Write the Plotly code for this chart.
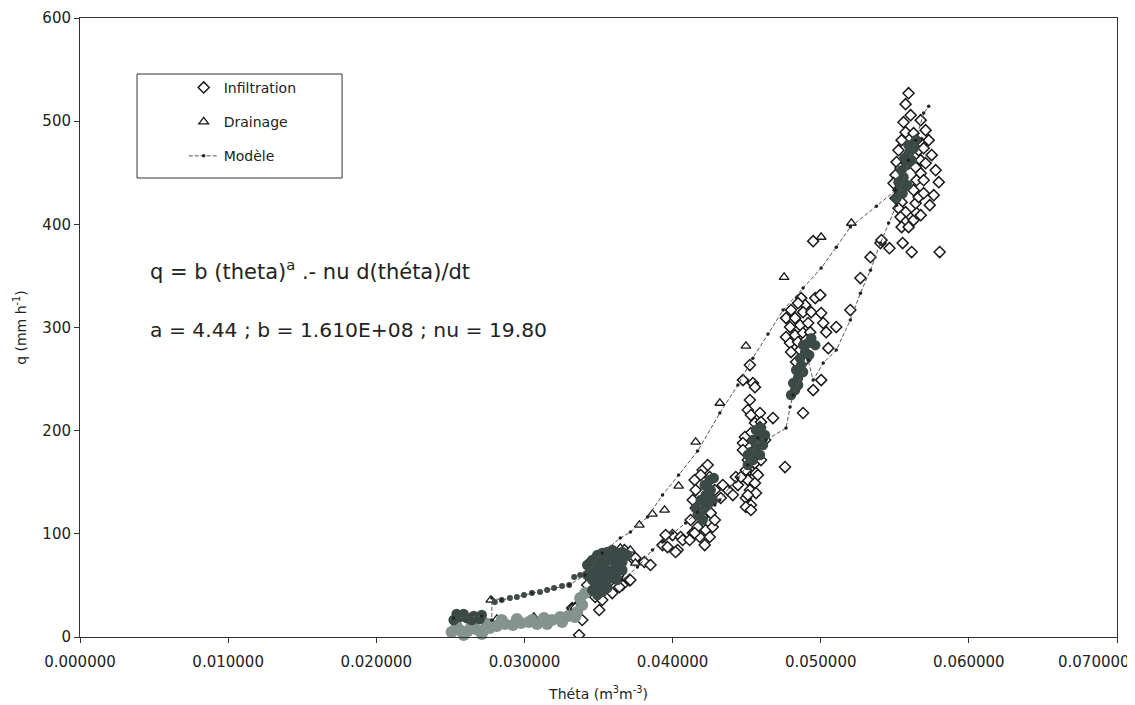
import plotly.graph_objects as go

# ---------------- DATA (theta in m3/m3, q in mm/h) ----------------
# Infiltration (measured, diamonds) grouped by cluster
infil_a_theta = [0.03369, 0.03390, 0.03322, 0.03376, 0.03505, 0.03525, 0.03478, 0.03614, 0.03661, 0.03708,
                 0.03627, 0.03437, 0.03471, 0.03614, 0.03675, 0.03708, 0.03458, 0.03525, 0.03593, 0.03647,
                 0.03715, 0.03641, 0.03593, 0.03675, 0.03742, 0.03810, 0.03851, 0.03749, 0.03546, 0.03424,
                 0.03932, 0.03966, 0.04034, 0.04000, 0.04054, 0.03953, 0.04020, 0.04068, 0.04136]
infil_a_q = [1.9, 16.5, 28.1, 32.9, 26.2, 35.9, 38.8, 48.4, 50.4, 55.2,
             58.1, 71.7, 75.6, 81.4, 84.3, 81.4, 72.7, 66.9, 58.1, 62.0,
             55.2, 48.4, 42.6, 77.5, 74.6, 72.7, 69.8, 76.6, 55.2, 50.4,
             89.1, 87.2, 84.3, 98.8, 96.9, 98.8, 82.4, 94.0, 100.8]

infil_b_theta = [0.04149, 0.04203, 0.04251, 0.04156, 0.04224, 0.04258, 0.04203, 0.04169, 0.04224, 0.04271,
                 0.04183, 0.04217, 0.04251, 0.04156, 0.04285, 0.04122, 0.04149, 0.04115, 0.04237, 0.04190,
                 0.04285, 0.04136, 0.04325, 0.04373, 0.04407, 0.04441, 0.04488, 0.04427, 0.04339]
infil_b_q = [152.1, 161.8, 155.0, 142.4, 132.8, 120.2, 116.3, 106.6, 103.7, 106.6,
             96.9, 89.1, 96.9, 125.0, 113.4, 113.4, 100.8, 94.0, 166.7, 157.0,
             142.4, 132.8, 134.7, 142.4, 137.6, 147.3, 155.0, 155.0, 147.3]

infil_c_theta = [0.04522, 0.04508, 0.04529, 0.04556, 0.04529, 0.04488, 0.04556, 0.04522, 0.04563, 0.04508,
                 0.04556, 0.04522, 0.04563, 0.04495, 0.04529, 0.04495, 0.04542, 0.04475, 0.04590, 0.04597,
                 0.04678, 0.04475, 0.04475, 0.04508, 0.04597, 0.04495, 0.04576, 0.04508, 0.04529, 0.04759,
                 0.04522, 0.04556, 0.04624, 0.04590, 0.04461, 0.04881]
infil_c_q = [229.7, 220.0, 215.1, 207.4, 197.7, 193.8, 168.6, 161.8, 158.9, 152.1,
             149.2, 142.4, 139.5, 134.7, 127.9, 126.0, 246.1, 249.0, 217.1, 208.3,
             212.2, 188.0, 181.2, 171.5, 171.5, 161.8, 157.0, 137.6, 123.1, 164.7,
             263.6, 242.2, 190.9, 203.5, 155.0, 217.1]

infil_d_theta = [0.04868, 0.04895, 0.04847, 0.04800, 0.04766, 0.04827, 0.04881, 0.04936, 0.04861, 0.04915,
                 0.04793, 0.04766, 0.04827, 0.04881, 0.04929, 0.04793, 0.04847, 0.04902, 0.04800, 0.04861,
                 0.04834, 0.04895, 0.04963, 0.04997, 0.05003, 0.05017, 0.05037, 0.05051, 0.05105, 0.05003,
                 0.04949, 0.04949, 0.05200, 0.05268, 0.05336, 0.05403]
infil_d_q = [328.5, 321.7, 323.6, 316.9, 309.1, 309.1, 314.9, 314.9, 302.3, 304.3,
             300.4, 290.7, 292.6, 294.6, 295.5, 284.9, 285.9, 287.8, 276.2, 278.1,
             266.5, 268.4, 328.5, 331.4, 314.0, 304.3, 295.5, 280.0, 300.4, 249.0,
             239.3, 383.7, 316.9, 347.9, 368.2, 381.8]

infil_e_theta = [0.05573, 0.05607, 0.05559, 0.05573, 0.05627, 0.05546, 0.05525, 0.05573, 0.05512, 0.05539,
                 0.05505, 0.05546, 0.05492, 0.05525, 0.05505, 0.05546, 0.05525, 0.05573, 0.05539, 0.05573,
                 0.05546, 0.05593, 0.05627, 0.05647, 0.05641, 0.05661, 0.05627, 0.05647, 0.05675, 0.05641,
                 0.05675, 0.05661, 0.05681, 0.05647, 0.05675, 0.05695, 0.05695, 0.05410, 0.05614, 0.05593,
                 0.05695, 0.05708, 0.05675, 0.05553, 0.05464, 0.05749, 0.05776, 0.05797, 0.05763, 0.05736,
                 0.05729, 0.05708, 0.05803]
infil_e_q = [516.5, 505.8, 499.0, 489.3, 488.4, 481.6, 471.9, 465.1, 460.3, 454.5,
             447.7, 442.8, 439.9, 433.1, 425.4, 421.5, 415.7, 411.8, 407.0, 402.1,
             397.3, 397.3, 404.1, 410.9, 420.5, 426.4, 433.1, 442.8, 449.6, 455.4,
             462.2, 471.9, 478.7, 481.6, 501.0, 430.2, 442.8, 384.7, 373.1, 527.1,
             473.8, 459.3, 408.9, 381.8, 376.9, 467.1, 452.5, 440.9, 428.3, 418.6,
             481.6, 491.3, 373.1]

# Drainage (measured, triangles)
drain_theta = [0.03864, 0.03946, 0.04041, 0.04156, 0.04319, 0.04495, 0.04753, 0.05003, 0.05207, 0.03776,
               0.03715, 0.03647, 0.03322, 0.03064, 0.02814, 0.02773, 0.03749, 0.03342]
drain_q = [119.2, 123.1, 146.3, 189.0, 226.7, 282.0, 348.8, 387.6, 401.2, 108.5,
           84.3, 86.2, 28.1, 19.4, 17.4, 35.9, 71.7, 29.1]

# Model: dense (overlapping) points, dark
model_dense_theta = [
    0.02522, 0.02563, 0.02610, 0.02658, 0.02712, 0.02542, 0.02644, 0.02698, 0.02590,
    0.03424, 0.03458, 0.03492, 0.03525, 0.03559, 0.03593, 0.03627, 0.03661, 0.03695,
    0.03424, 0.03458, 0.03492, 0.03525, 0.03559, 0.03593, 0.03627, 0.03661,
    0.03458, 0.03492, 0.03525, 0.03559, 0.03593, 0.03627, 0.03661,
    0.03458, 0.03492, 0.03525, 0.03559, 0.03593, 0.03627,
    0.03492, 0.03525, 0.03559,
    0.04169, 0.04203, 0.04237, 0.04190, 0.04224, 0.04258, 0.04217, 0.04251, 0.04278, 0.04156, 0.04271, 0.04203,
    0.04508, 0.04542, 0.04529, 0.04563, 0.04542, 0.04583, 0.04563, 0.04597, 0.04610, 0.04508, 0.04590, 0.04624,
    0.04800, 0.04827, 0.04814, 0.04847, 0.04834, 0.04868, 0.04861, 0.04895, 0.04881, 0.04915, 0.04936, 0.04963,
    0.04922, 0.04881, 0.04847,
    0.05512, 0.05539, 0.05525, 0.05559, 0.05546, 0.05580, 0.05566, 0.05600, 0.05593, 0.05627, 0.05614, 0.05586,
    0.05641, 0.05553]
model_dense_q = [
    16.5, 19.4, 18.4, 20.3, 21.3, 22.3, 16.5, 17.4, 22.3,
    69.8, 74.6, 79.5, 81.4, 82.4, 84.3, 81.4, 82.4, 79.5,
    60.1, 64.9, 69.8, 72.7, 74.6, 74.6, 72.7, 72.7,
    55.2, 60.1, 63.0, 64.9, 64.9, 63.0, 64.9,
    45.5, 50.4, 53.3, 55.2, 57.2, 55.2,
    40.7, 43.6, 47.5,
    118.2, 123.1, 127.9, 132.8, 137.6, 142.4, 147.3, 152.1, 154.1, 125.0, 132.8, 113.4,
    166.7, 171.5, 179.3, 184.1, 190.9, 193.8, 200.6, 202.5, 186.0, 176.4, 176.4, 195.7,
    234.5, 239.3, 246.1, 251.0, 258.7, 263.6, 270.3, 276.2, 282.9, 284.9, 289.7, 282.9,
    273.3, 256.8, 244.2,
    425.4, 433.1, 440.9, 445.7, 452.5, 457.4, 464.1, 470.0, 476.7, 473.8, 462.2, 438.0,
    481.6, 430.2]

# Model: low-theta trace (dark dots)
model_low_theta = [0.02800, 0.02847, 0.02902, 0.02949, 0.02997, 0.03051, 0.03105, 0.03153, 0.03200, 0.03254,
                   0.03302, 0.03336, 0.03376, 0.03410]
model_low_q = [33.9, 35.9, 37.8, 38.8, 40.7, 42.6, 43.6, 45.5, 47.5, 49.4,
               50.4, 58.1, 60.1, 60.1]

# Model: light grey dense points at low theta
model_grey_theta = [0.02508, 0.02563, 0.02617, 0.02671, 0.02725, 0.02766, 0.02542, 0.02644, 0.02746, 0.02814,
                    0.02868, 0.02922, 0.02976, 0.03031, 0.03085, 0.02847, 0.02949, 0.03051, 0.03132, 0.03186,
                    0.03241, 0.03295, 0.03153, 0.03254, 0.03356, 0.03390, 0.03376, 0.03410, 0.03342, 0.02590,
                    0.02712]
model_grey_q = [4.8, 6.8, 5.8, 7.8, 6.8, 8.7, 10.7, 11.6, 12.6, 10.7,
                12.6, 11.6, 13.6, 14.5, 12.6, 16.5, 17.4, 16.5, 18.4, 16.5,
                19.4, 20.3, 12.6, 14.5, 24.2, 31.0, 37.8, 42.6, 19.4, 1.9,
                2.9]

# Model line: drainage branch (upper)
model_up_theta = [0.02522, 0.02712, 0.02780, 0.02780, 0.02847, 0.03051, 0.03302, 0.03410, 0.03525, 0.03647,
                  0.03715, 0.03831, 0.03932, 0.04041, 0.04169, 0.04319, 0.04441, 0.04542, 0.04644, 0.04746,
                  0.04881, 0.05003, 0.05105, 0.05200, 0.05376, 0.05505]
model_up_q = [18.4, 20.3, 16.5, 37.8, 35.9, 42.6, 50.4, 60.1, 81.4, 95.9,
              101.7, 116.3, 137.6, 157.0, 180.2, 217.1, 244.2, 270.3, 293.6, 316.9,
              338.2, 357.6, 377.9, 397.3, 417.6, 433.1]

# Model line: infiltration branch (lower)
model_dn_theta = [0.03661, 0.03763, 0.03864, 0.03932, 0.04000, 0.04088, 0.04169, 0.04285, 0.04319, 0.04386,
                  0.04441, 0.04508, 0.04576, 0.04631, 0.04766, 0.04793, 0.04814, 0.04915, 0.04949, 0.05017,
                  0.05105, 0.05200, 0.05268, 0.05336, 0.05403, 0.05458, 0.05512, 0.05593, 0.05641, 0.05695,
                  0.05729]
model_dn_q = [55.2, 67.8, 84.3, 92.1, 100.8, 110.5, 121.1, 127.9, 132.8, 145.3,
              154.1, 166.7, 192.8, 190.9, 202.5, 222.9, 234.5, 268.4, 249.0, 265.5,
              278.1, 307.2, 333.3, 355.6, 381.8, 401.2, 418.6, 462.2, 481.6, 507.8,
              514.5]

x_ticks = [0.0, 0.01, 0.02, 0.03, 0.04, 0.05, 0.06, 0.07]
x_tick_text = ["0.000000", "0.010000", "0.020000", "0.030000", "0.040000", "0.050000", "0.060000", "0.070000"]
y_ticks = [0, 100, 200, 300, 400, 500, 600]

infil_theta = infil_a_theta + infil_b_theta + infil_c_theta + infil_d_theta + infil_e_theta
infil_q = infil_a_q + infil_b_q + infil_c_q + infil_d_q + infil_e_q

FONT = "DejaVu Sans"
DARK = "#3c4a47"
GREY = "#84938e"
LINEC = "#555555"
TXT = "#222222"

fig = go.Figure()

fig.add_trace(go.Scatter(
    x=infil_theta, y=infil_q, mode="markers", name="Infiltration",
    legendgroup="g1",
    marker=dict(symbol="diamond", size=8.5, color="white", line=dict(color="#1a1a1a", width=1.5)),
))
fig.add_trace(go.Scatter(
    x=drain_theta, y=drain_q, mode="markers", name="Drainage",
    legendgroup="g2",
    marker=dict(symbol="triangle-up", size=8.5, color="white", line=dict(color="#1a1a1a", width=1.3)),
))
fig.add_trace(go.Scatter(
    x=model_grey_theta, y=model_grey_q, mode="markers", showlegend=False, cliponaxis=False,
    marker=dict(symbol="circle", size=12, color=GREY),
))
fig.add_trace(go.Scatter(
    x=model_dense_theta, y=model_dense_q, mode="markers", showlegend=False,
    marker=dict(symbol="circle", size=10.5, color=DARK),
))
fig.add_trace(go.Scatter(
    x=model_low_theta, y=model_low_q, mode="markers", showlegend=False,
    marker=dict(symbol="circle", size=6, color=DARK),
))
fig.add_trace(go.Scatter(
    x=model_up_theta, y=model_up_q, mode="lines+markers", showlegend=False,
    line=dict(color=LINEC, width=1, dash="4px,2px"),
    marker=dict(symbol="circle", size=3.5, color="#222"),
))
fig.add_trace(go.Scatter(
    x=model_dn_theta, y=model_dn_q, mode="lines+markers", name="Modèle",
    legendgroup="g3",
    line=dict(color=LINEC, width=1, dash="4px,2px"),
    marker=dict(symbol="circle", size=3.5, color="#222"),
))

axis_common = dict(
    showgrid=False, zeroline=False, showline=True, linecolor="#333", linewidth=1,
    mirror=True, ticks="outside", ticklen=5, tickcolor="#333", automargin=False,
    tickfont=dict(family=FONT, size=15, color=TXT),
)

# last x label is written as an annotation so it stays inside the page (as in the original)
x_tick_shown = x_tick_text[:-1] + [""]

fig.update_xaxes(
    range=[0, 0.0700001], tickvals=x_ticks, ticktext=x_tick_shown, ticklabelstandoff=6,
    title=dict(text="Théta (m<sup>3</sup>m<sup>-3</sup>)", font=dict(family=FONT, size=14, color=TXT), standoff=19),
    **axis_common,
)
fig.update_yaxes(
    range=[0, 600.0001], tickvals=y_ticks,
    title=dict(text="q (mm h<sup>-1</sup>)", font=dict(family=FONT, size=14, color=TXT), standoff=12),
    **axis_common,
)

fig.add_annotation(x=1.0, y=0, xref="paper", yref="paper", xanchor="right", yanchor="top",
                   xshift=15, yshift=-14, text=x_tick_text[-1], showarrow=False,
                   font=dict(family=FONT, size=15, color=TXT))

# legend frame
fig.add_shape(type="rect", xref="paper", yref="paper", x0=0.055, x1=0.2527, y0=0.7415, y1=0.9095,
              line=dict(color="#333", width=1), fillcolor="rgba(0,0,0,0)", layer="below")

fig.add_annotation(x=0.0656, y=0.593, xref="paper", yref="paper", xanchor="left", yanchor="middle",
                   text="q = b (theta)<sup>a</sup> .- nu d(théta)/dt", showarrow=False,
                   font=dict(family=FONT, size=21, color=TXT))
fig.add_annotation(x=0.0656, y=0.496, xref="paper", yref="paper", xanchor="left", yanchor="middle",
                   text="a = 4.44 ; b = 1.610E+08 ; nu = 19.80", showarrow=False,
                   font=dict(family=FONT, size=20.3, color=TXT))

# The page body adds an 8px offset, so the figure is 8px smaller and margins compensate.
fig.update_layout(
    width=1127, height=697,
    margin=dict(l=72, r=18, t=10, b=68, autoexpand=False),
    paper_bgcolor="white", plot_bgcolor="white",
    font=dict(family=FONT, color=TXT),
    legend=dict(x=0.10, y=0.913, xanchor="left", yanchor="top", bgcolor="rgba(0,0,0,0)",
                borderwidth=0, font=dict(family=FONT, size=14, color=TXT), tracegroupgap=13),
)

fig.write_html("out.html")
